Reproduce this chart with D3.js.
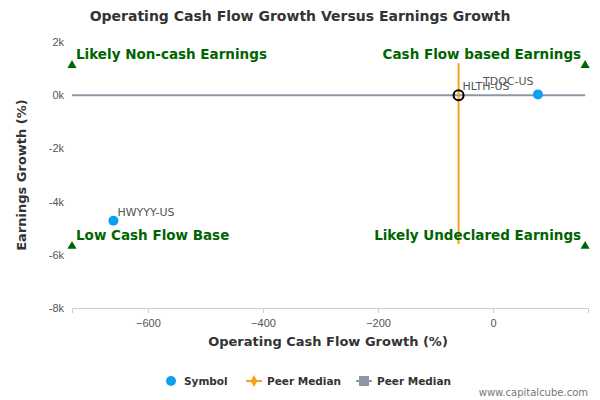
<!DOCTYPE html>
<html><head><meta charset="utf-8">
<script src="https://cdn.jsdelivr.net/npm/d3@7"></script>
<style>body{margin:0;background:#fff;font-family:"DejaVu Sans",sans-serif;}</style>
</head><body><div id="chart"></div>
<script>
let symbols = ["HWYYY-US", "TDOC-US", "HLTH-US"];
let cashGrowth = [-660, 78, -60];
let earnGrowth = [-4720, 30, 0];
let medianX = -60;
let medianY = 0;
let xTicks = [-600, -400, -200, 0];
let yTicks = [2000, 0, -2000, -4000, -6000, -8000];
let quadrants = [
    {label: "Likely Non-cash Earnings", x: -732, y: 1200, side: "left"},
    {label: "Cash Flow based Earnings", x: 160, y: 1200, side: "right"},
    {label: "Low Cash Flow Base", x: -732, y: -5600, side: "left"},
    {label: "Likely Undeclared Earnings", x: 160, y: -5600, side: "right"}
];

let svg = d3.select("#chart").append("svg").attr("width", 600).attr("height", 400);
let x = d3.scaleLinear().domain([-732, 165]).range([72, 588]);
let y = d3.scaleLinear().domain([-8000, 2000]).range([308, 42]);

svg.append("text").attr("x", 300).attr("y", 21).attr("text-anchor", "middle")
    .attr("font-size", 14).attr("font-weight", "bold").attr("fill", "#333")
    .text("Operating Cash Flow Growth Versus Earnings Growth");

let xAxis = svg.append("g").attr("transform", "translate(0,308)")
    .call(d3.axisBottom(x).tickValues(xTicks).tickSize(5).tickFormat(d3.format("d")));
xAxis.select(".domain").attr("stroke", "#c0d0e0");
xAxis.selectAll(".tick line").attr("stroke", "#c0d0e0");
xAxis.selectAll("text").attr("fill", "#555").attr("font-size", 11).attr("dy", "1em");

let yAxis = svg.append("g").attr("transform", "translate(72,0)")
    .call(d3.axisLeft(y).tickValues(yTicks).tickSize(0).tickPadding(8).tickFormat(d => (d / 1000) + "k"));
yAxis.select(".domain").remove();
yAxis.selectAll("text").attr("fill", "#555").attr("font-size", 11);

svg.append("text").attr("x", 328).attr("y", 346).attr("text-anchor", "middle")
    .attr("font-size", 13).attr("font-weight", "bold").attr("fill", "#333")
    .text("Operating Cash Flow Growth (%)");
svg.append("text").attr("transform", "translate(26,175) rotate(-90)").attr("text-anchor", "middle")
    .attr("font-size", 13).attr("font-weight", "bold").attr("fill", "#333")
    .text("Earnings Growth (%)");

// peer median lines
svg.append("line").attr("x1", x(-732)).attr("x2", x(160)).attr("y1", y(medianY)).attr("y2", y(medianY))
    .attr("stroke", "#8f96a3").attr("stroke-width", 2);
svg.append("line").attr("x1", x(medianX)).attr("x2", x(medianX)).attr("y1", y(1200)).attr("y2", y(-5600))
    .attr("stroke", "#f7a21b").attr("stroke-width", 2);

// quadrant labels
quadrants.forEach(q => {
    svg.append("path").attr("d", d3.symbol(d3.symbolTriangle, 36)())
        .attr("transform", `translate(${x(q.x)},${y(q.y) + 2})`).attr("fill", "#006400");
    svg.append("text").attr("x", q.side === "left" ? x(q.x) + 4 : x(q.x) - 4).attr("y", y(q.y) - 4)
        .attr("text-anchor", q.side === "left" ? "start" : "end")
        .attr("font-size", 13.5).attr("font-weight", "bold").attr("fill", "#006400").text(q.label);
});

// points
symbols.forEach((s, i) => {
    let hl = s === "HLTH-US";
    svg.append("circle").attr("cx", x(cashGrowth[i])).attr("cy", y(earnGrowth[i])).attr("r", 5)
        .attr("fill", hl ? "none" : "#0ca1f0").attr("stroke", hl ? "#000" : "none").attr("stroke-width", 2);
    svg.append("text").attr("x", x(cashGrowth[i]) + (s === "TDOC-US" ? -55 : 4))
        .attr("y", y(earnGrowth[i]) - (s === "TDOC-US" ? 9 : 5))
        .attr("font-size", 11).attr("fill", "#555").text(s);
});

// legend
let lg = svg.append("g").attr("font-size", 10.5).attr("font-weight", "bold").attr("fill", "#333");
lg.append("circle").attr("cx", 171).attr("cy", 381).attr("r", 5).attr("fill", "#0ca1f0");
lg.append("text").attr("x", 184).attr("y", 385).text("Symbol");
lg.append("line").attr("x1", 246).attr("x2", 262).attr("y1", 381).attr("y2", 381).attr("stroke", "#f7a21b").attr("stroke-width", 2);
lg.append("path").attr("d", d3.symbol(d3.symbolDiamond, 40)()).attr("transform", "translate(254,381)").attr("fill", "#f7a21b");
lg.append("text").attr("x", 267).attr("y", 385).text("Peer Median");
lg.append("line").attr("x1", 356).attr("x2", 372).attr("y1", 381).attr("y2", 381).attr("stroke", "#8f96a3").attr("stroke-width", 2);
lg.append("rect").attr("x", 359).attr("y", 376).attr("width", 10).attr("height", 10).attr("fill", "#8f96a3");
lg.append("text").attr("x", 377).attr("y", 385).text("Peer Median");
svg.append("text").attr("x", 588).attr("y", 396).attr("text-anchor", "end").attr("font-size", 10)
    .attr("fill", "#777").text("www.capitalcube.com");
</script></body></html>
